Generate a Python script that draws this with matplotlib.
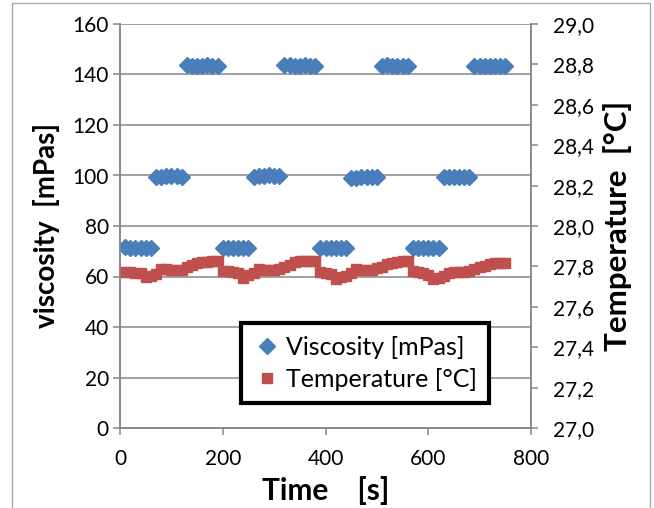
import matplotlib
matplotlib.use("Agg")
import matplotlib.pyplot as plt
from matplotlib.patches import Rectangle
from matplotlib.ticker import FuncFormatter

# sample times [s]
time_s = [10, 20, 30, 40, 50, 60, 70, 80, 90, 100, 110, 120, 130, 140, 150, 160, 170, 180, 190,
          200, 210, 220, 230, 240, 250, 260, 270, 280, 290, 300, 310, 320, 330, 340, 350, 360, 370, 380,
          390, 400, 410, 420, 430, 440, 450, 460, 470, 480, 490, 500, 510, 520, 530, 540, 550, 560,
          570, 580, 590, 600, 610, 620, 630, 640, 650, 660, 670, 680, 690, 700, 710, 720, 730, 740, 750]

viscosity = [71.5, 71.4, 71.3, 71.3, 71.2, 71.3, 99.4, 99.6, 99.7, 99.8, 99.7, 99.6,
             143.6, 143.5, 143.4, 143.5, 143.6, 143.5, 143.4,
             71.4, 71.3, 71.2, 71.2, 71.3, 71.2, 99.5, 99.8, 99.9, 100.0, 99.8, 99.7,
             143.7, 143.6, 143.5, 143.5, 143.6, 143.4, 143.5,
             71.3, 71.2, 71.2, 71.1, 71.2, 71.2, 98.9, 99.2, 99.4, 99.5, 99.6, 99.5,
             143.5, 143.6, 143.4, 143.5, 143.4, 143.5,
             71.3, 71.2, 71.2, 71.1, 71.2, 71.1, 99.3, 99.4, 99.5, 99.5, 99.4, 99.4,
             143.5, 143.4, 143.5, 143.5, 143.4, 143.5, 143.4]

temperature = [27.771, 27.771, 27.769, 27.766, 27.749, 27.752, 27.761, 27.787, 27.785, 27.782,
               27.781, 27.781, 27.795, 27.807, 27.815, 27.822, 27.823, 27.825, 27.827,
               27.777, 27.776, 27.774, 27.769, 27.744, 27.757, 27.766, 27.785, 27.782, 27.782,
               27.782, 27.785, 27.799, 27.807, 27.820, 27.827, 27.828, 27.828, 27.827,
               27.772, 27.769, 27.761, 27.736, 27.749, 27.752, 27.769, 27.785, 27.782, 27.782,
               27.784, 27.790, 27.799, 27.810, 27.818, 27.823, 27.825, 27.827,
               27.776, 27.772, 27.769, 27.757, 27.738, 27.744, 27.752, 27.769, 27.774, 27.774,
               27.774, 27.779, 27.785, 27.795, 27.802, 27.810, 27.815, 27.817, 27.818]

left_ticks = [0, 20, 40, 60, 80, 100, 120, 140, 160]
right_ticks = [27.0, 27.2, 27.4, 27.6, 27.8, 28.0, 28.2, 28.4, 28.6, 28.8, 29.0]
x_ticks = [0, 200, 400, 600, 800]

plt.rcParams['font.family'] = ['Lato', 'DejaVu Sans']
grey = '#868686'

fig = plt.figure(figsize=(6.54, 5.08), dpi=100)
ax = fig.add_axes([120/654, 80/508, 411/654, 404/508])
ax2 = ax.twinx()

ax.set_xlim(0, 800)
ax.set_ylim(0, 160)
ax2.set_ylim(27.0, 29.0)
ax.set_xticks(x_ticks)
ax.set_yticks(left_ticks)
ax2.set_yticks(right_ticks)
ax2.yaxis.set_major_formatter(FuncFormatter(lambda v, p: f"{v:.1f}".replace('.', ',')))

ax.grid(axis='y', color=grey, linewidth=1.1)
ax.set_axisbelow(True)
for a in (ax, ax2):
    for s in a.spines.values():
        s.set_color(grey)
        s.set_linewidth(1.1)
    a.spines['top'].set_visible(False)
    a.tick_params(colors=grey, labelcolor='black', labelsize=15, length=5, width=1.1)
ax.tick_params(axis='x', pad=10)
ax.tick_params(axis='y', pad=3)
ax2.tick_params(axis='y', pad=11)

h1, = ax.plot(time_s, viscosity, linestyle='none', marker='D', markersize=8,
              color='#4A7EBB', label='Viscosity [mPas]')
h2, = ax2.plot(time_s, temperature, linestyle='none', marker='s', markersize=6.5,
               color='#C0504D', label='Temperature [°C]')

ax.set_xlabel('Time    [s]', fontsize=21.5, fontweight='bold', labelpad=5)
ax.set_ylabel('viscosity  [mPas]', fontsize=20, fontweight='bold', labelpad=9)
ax2.set_ylabel('Temperature  [°C]', fontsize=22.5, fontweight='bold', labelpad=6)

leg = ax2.legend(handles=[h1, h2], loc='center', bbox_to_anchor=(0.596, 0.16),
                 fontsize=18, frameon=True, fancybox=False, borderpad=0.5,
                 handletextpad=0.2, handlelength=1.1, labelspacing=0.35, borderaxespad=0)
leg.get_frame().set_edgecolor('black')
leg.get_frame().set_linewidth(3)
leg.get_frame().set_alpha(1)

fig.patches.append(Rectangle((12/654, -0.01), 638/654, 1.01 - 3/508, transform=fig.transFigure,
                             fill=False, edgecolor='#a6a6a6', linewidth=1))

fig.savefig('out.png', dpi=100)
